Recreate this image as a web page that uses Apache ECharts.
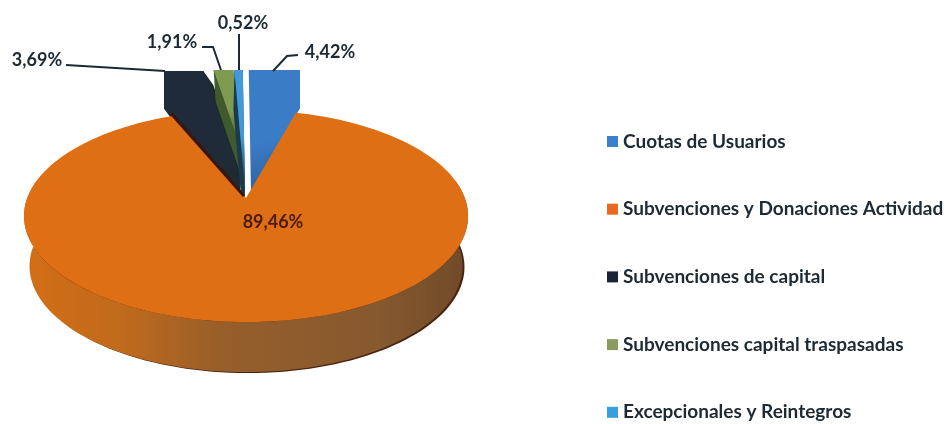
<!DOCTYPE html>
<html><head><meta charset="utf-8">
<style>html,body{margin:0;padding:0;background:#fff}#c{width:948px;height:424px}</style>
<script src="https://cdn.jsdelivr.net/npm/echarts@6/dist/echarts.min.js"></script>
</head><body><div id="c"></div>
<script>
// Data, in the pie's clockwise order
const categories = ['Cuotas de Usuarios','Subvenciones y Donaciones Actividad','Subvenciones de capital','Subvenciones capital traspasadas','Excepcionales y Reintegros'];
const shares = [4.42, 89.46, 3.69, 1.91, 0.52];

// Styling and layout
const faceColors = ['#3b7cc6','#de6f15','#1f2b3a','#7f9b52','#3f9bdc'];
const wallColors = ['#2a5f9c','#8a5a2c','#1e2a30','#3f5a2c','#1c3a4c'];
const legendColors = ['#3a80cc','#e8691f','#1a2438','#8d9a60','#35a0dc'];
const apexes = [[251,192],[246,198],[250,206],[240,146],[245,190]];
const clips = [[0,300,70,400],null,[164,240,71,400],[0,999,70,400],[0,999,70,400]];
const wallShift = [[0,0],[0,50],[10,14],[2,32],[-1,40]];
const labelPos = [[330,52],[273,222],[37,60],[172,42],[243,23]];
const leaders = [[[298,55],[287,56],[273,71]],null,[[66,65],[165,71]],[[202,47],[213,47],[221,70]],[[239,34],[239,70]]];
const startDeg = -0.5, P = 0.17, X = 218.8, Y = 103;

const rad = d => d * Math.PI / 180;
const project = (deg, r) => {
  const u = r * Math.sin(rad(deg)), v = -r * Math.cos(rad(deg)), k = 1 / (1 - P * v);
  return [X * u * k, Y * v * k];
};
const bounds = []; { let a = startDeg; shares.forEach(s => { bounds.push([a, a + s * 3.6]); a += s * 3.6; }); }
const clipPoly = (pts, b) => {
  const edges = [[p=>p[0]>=b[0],0,b[0]],[p=>p[0]<=b[1],0,b[1]],[p=>p[1]>=b[2],1,b[2]],[p=>p[1]<=b[3],1,b[3]]];
  edges.forEach(([inside,ax,val]) => {
    const out = [];
    pts.forEach((p,i) => {
      const q = pts[(i+1)%pts.length], pi = inside(p), qi = inside(q);
      if (pi) out.push(p);
      if (pi !== qi) { const t = (val-p[ax])/(q[ax]-p[ax]); out.push([p[0]+(q[0]-p[0])*t, p[1]+(q[1]-p[1])*t]); }
    });
    pts = out;
  });
  return pts;
};
const hull = pts => {
  const s = pts.slice().sort((a,b)=>a[0]-b[0]||a[1]-b[1]);
  const cross=(o,a,b)=>(a[0]-o[0])*(b[1]-o[1])-(a[1]-o[1])*(b[0]-o[0]);
  const lo=[],up=[];
  s.forEach(p=>{while(lo.length>1&&cross(lo[lo.length-2],lo[lo.length-1],p)<=0)lo.pop();lo.push(p);});
  s.slice().reverse().forEach(p=>{while(up.length>1&&cross(up[up.length-2],up[up.length-1],p)<=0)up.pop();up.push(p);});
  return lo.slice(0,-1).concat(up.slice(0,-1));
};
const poly = (points, fill) => ({type:'polygon', shape:{points}, style:{fill}});
const leaderEl = pts => ({type:'polyline', shape:{points:pts}, style:{fill:null, stroke:'#1d2a33', lineWidth:2}});
const labelEl = (i, color, size) => ({type:'text', style:{text:shares[i].toFixed(2).replace('.',',')+'%', x:labelPos[i][0], y:labelPos[i][1], align:'center', verticalAlign:'middle', font:`700 ${size}px Lato`, fill:color}});

function renderSlice(i) {
  const A = apexes[i], kids = [], [a0,a1] = bounds[i];
  if (i === 1) {
    const top = [], wallTop = [], wallBot = [];
    for (let d = a0; d <= a1 + 0.001; d += 2) { const p = project(d,1); top.push([A[0]+p[0], A[1]+p[1]]); }
    for (let d = 80; d <= 280; d += 2) {
      const p = project(d,1);
      wallTop.push([A[0]+p[0], A[1]+p[1]]);
      wallBot.unshift([A[0]+p[0]*0.975, A[1]+p[1]+wallShift[1][1]]);
    }
    kids.push(poly(wallBot.map(p=>[p[0]+2,p[1]+1]), '#4a2410'));
    kids.push(poly(wallTop.concat(wallBot), new echarts.graphic.LinearGradient(0,0,1,0,[
      {offset:0,color:'#d46e16'},{offset:0.22,color:'#c06a1c'},{offset:0.45,color:'#965e2a'},{offset:0.8,color:'#86592f'},{offset:1,color:'#6f4a28'}])));
    kids.push(poly(top.concat([A]), faceColors[1]));
    const end = top[top.length-1];
    kids.push({type:'line', shape:{x1:A[0]-2,y1:A[1]-2,x2:end[0]-2,y2:end[1]-2}, style:{stroke:'#3a1608', lineWidth:3}});
    kids.push(labelEl(1,'#4a1c12',18));
    return {type:'group', children:kids};
  }
  const d0 = project(a0,1), d1 = project(a1,1);
  const raw = [A, [A[0]+d0[0]*3, A[1]+d0[1]*3], [A[0]+d1[0]*3, A[1]+d1[1]*3]];
  const shape = clipPoly(raw, clips[i]);
  const sh = wallShift[i];
  if (sh[0] || sh[1]) {
    const h = hull(shape.concat(shape.map(p=>[p[0]+sh[0],p[1]+sh[1]])));
    kids.push(poly(clipPoly(h, clips[i]), wallColors[i]));
  }
  kids.push(poly(shape, new echarts.graphic.LinearGradient(0.2,0,0.8,1,[{offset:0,color:faceColors[i]},{offset:0.55,color:faceColors[i]},{offset:1,color:wallColors[i]}])));
  kids.push(leaderEl(leaders[i]));
  kids.push(labelEl(i,'#1d2a33',18));
  return {type:'group', children:kids};
}

const drawOrder = [2,3,4,0,1];
const chart = echarts.init(document.getElementById('c'), null, {renderer:'canvas'});
chart.setOption({
  animation:false,
  backgroundColor:'#fff',
  legend:{
    data:categories, orient:'vertical', left:602, top:127, height:320, itemWidth:11, itemHeight:11, itemGap:48.7,
    icon:'rect', selectedMode:false,
    textStyle:{fontFamily:'Lato', fontWeight:700, fontSize:19, color:'#1d2a33'}
  },
  series: drawOrder.map(i => ({
    type:'custom', name:categories[i], coordinateSystem:'none', silent:true, z:2+drawOrder.indexOf(i),
    itemStyle:{color:legendColors[i]}, data:[shares[i]],
    renderItem:() => renderSlice(i)
  }))
});
</script></body></html>
